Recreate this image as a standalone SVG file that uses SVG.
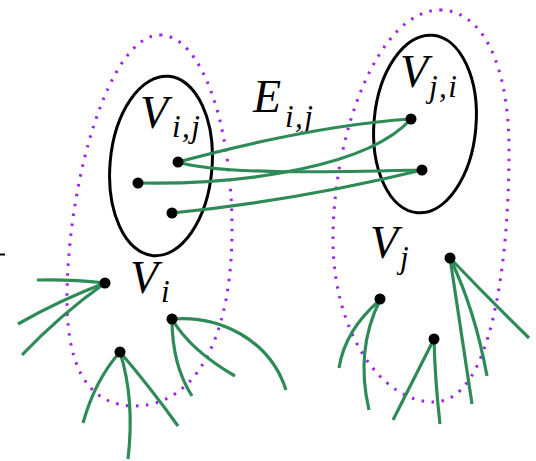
<svg xmlns="http://www.w3.org/2000/svg" width="536" height="461" viewBox="0 0 536 461">
<style>
.dot{fill:none;stroke:#a020f0;stroke-width:3;stroke-dasharray:2.5 7.5}
.set{fill:none;stroke:#000;stroke-width:3}
.v{fill:#000}
.e{fill:none;stroke:#2e8b57;stroke-width:3.2;stroke-linecap:butt}
.lab{font-family:"Liberation Serif","Times New Roman",serif;font-style:italic;fill:#000}
.big{font-size:46px}
.sub{font-size:31px;letter-spacing:1.5px}
</style>
<rect width="536" height="461" fill="#fff"/>
<g id="cluster-Vi">
<path class="dot" d="M160 35 C200 35 232 120 232 230 C232 330 200 405 135 406 C90 406 67 370 67 300 C67 180 110 35 160 35 Z"/>
<text class="lab" x="130" y="293"><tspan class="big">V</tspan><tspan class="sub" x="161" y="302">i</tspan></text>
</g>
<g id="cluster-Vj">
<path class="dot" d="M440 10 C480 10 509 60 509 150 C509 260 492 402 434 402 C380 402 333 330 333 240 C333 130 380 10 440 10 Z"/>
<text class="lab" x="370" y="258"><tspan class="big">V</tspan><tspan class="sub" x="400" y="268">j</tspan></text>
</g>
<g id="set-Vij">
<ellipse class="set" cx="161" cy="166" rx="51" ry="90" transform="rotate(5 161 166)"/>
<text class="lab" x="140" y="128"><tspan class="big">V</tspan><tspan class="sub" x="172" y="137">i,j</tspan></text>
</g>
<g id="set-Vji">
<ellipse class="set" cx="425" cy="124" rx="51" ry="89" transform="rotate(5 425 124)"/>
<text class="lab" x="400" y="87"><tspan class="big">V</tspan><tspan class="sub" x="429" y="97">j,i</tspan></text>
</g>
<g id="label-Eij">
<text class="lab" x="253" y="112"><tspan class="big">E</tspan><tspan class="sub" x="285" y="127">i,j</tspan></text>
</g>
<g id="connectors">
<path class="e" d="M178 162 C230 148 320 125 411 119"/>
<path class="e" d="M178 162 C220 175 330 172 422 170"/>
<path class="e" d="M138 183 C250 185 370 165 411 119"/>
<path class="e" d="M172 213 Q300 200 422 170"/>
<path class="e" d="M105 283 Q70 279 37 280"/>
<path class="e" d="M105 283 Q60 300 18 324"/>
<path class="e" d="M105 283 Q60 315 22 355"/>
<path class="e" d="M172 319 C220 315 270 340 286 390"/>
<path class="e" d="M172 319 Q190 350 235 376"/>
<path class="e" d="M172 319 Q172 365 192 396"/>
<path class="e" d="M120 352 Q95 380 83 423"/>
<path class="e" d="M120 352 Q135 400 128 459"/>
<path class="e" d="M120 352 Q150 387 178 426"/>
<path class="e" d="M380 300 Q345 330 339 368"/>
<path class="e" d="M380 300 Q355 350 369 410"/>
<path class="e" d="M434 339 L393 420"/>
<path class="e" d="M434 339 Q435 380 440 424"/>
<path class="e" d="M450 258 L472 404"/>
<path class="e" d="M450 258 Q475 310 487 376"/>
<path class="e" d="M450 258 Q490 300 529 338"/>
</g>
<g id="n-a"><circle class="v" cx="178" cy="162" r="5.5"/></g>
<g id="n-b"><circle class="v" cx="138" cy="183" r="5.5"/></g>
<g id="n-c"><circle class="v" cx="172" cy="213" r="5.5"/></g>
<g id="n-d"><circle class="v" cx="411" cy="119" r="5.5"/></g>
<g id="n-e"><circle class="v" cx="422" cy="170" r="5.5"/></g>
<g id="n-f"><circle class="v" cx="105" cy="283" r="5.5"/></g>
<g id="n-g"><circle class="v" cx="172" cy="319" r="5.5"/></g>
<g id="n-h"><circle class="v" cx="120" cy="352" r="5.5"/></g>
<g id="n-k"><circle class="v" cx="380" cy="299" r="5.5"/></g>
<g id="n-l"><circle class="v" cx="450" cy="258" r="5.5"/></g>
<g id="n-m"><circle class="v" cx="434" cy="339" r="5.5"/></g>
<line x1="0" y1="254.5" x2="5" y2="254.5" stroke="#000" stroke-width="2"/>
</svg>
